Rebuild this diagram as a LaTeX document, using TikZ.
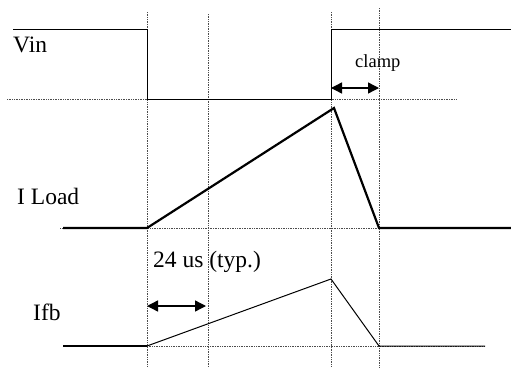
\documentclass[tikz,border=0pt]{standalone}
\usepackage{fontspec}
\setmainfont{Liberation Serif}
\usetikzlibrary{arrows.meta}

\tikzset{
  guia/.style={densely dotted, line width=0.7pt, black!70},
  sinal/.style={line width=1pt, line join=miter},
  grosso/.style={line width=2.2pt, line join=miter},
  cota/.style={{Triangle[length=11pt,width=11pt]}-{Triangle[length=11pt,width=11pt]}, line width=1.4pt},
  rotulo/.style={anchor=base west, inner sep=0pt, font=\fontsize{23.5}{28}\selectfont},
}

\begin{document}
\begin{tikzpicture}[x=1pt,y=-1pt]
\useasboundingbox (0,0) rectangle (511,367);

% linhas de tempo
\draw[guia] (147,12) -- (147,367);
\draw[guia] (208,14) -- (208,367);
\draw[guia] (331,12) -- (331,367);
\draw[guia] (379,8) -- (379,367);

% niveis de referencia
\draw[guia] (7,99) -- (457,99);
\draw[guia] (60,228) -- (511,228);
\draw[guia] (147,346) -- (485,346);

% Vin
\draw[sinal] (13,29) -- (147,29) -- (147,99) -- (331,99) -- (331,29) -- (511,29);
\node[rotulo] (vin) at (13,52) {Vin};

% I Load
\draw[grosso] (63,228) -- (147,228) -- (334,108) -- (379,228) -- (511,228);
\node[rotulo] (iload) at (17,204) {I Load};

% Ifb
\draw[grosso] (63,346) -- (147,346);
\draw[sinal] (147,346) -- (331,279) -- (379,346) -- (485,346);
\node[rotulo] (ifb) at (33,320) {Ifb};

% clamp
\coordinate (c1) at (331,88);
\coordinate (c2) at (379,88);
\draw[cota] (c1) -- (c2);
\node[rotulo, font=\fontsize{18.5}{22}\selectfont] (clamp) at (355,67) {clamp};

% 24 us
\coordinate (t1) at (147,306);
\coordinate (t2) at (206,306);
\draw[cota] (t1) -- (t2);
\node[rotulo] (tip) at (153,267) {24 us (typ.)};

\end{tikzpicture}
\end{document}
